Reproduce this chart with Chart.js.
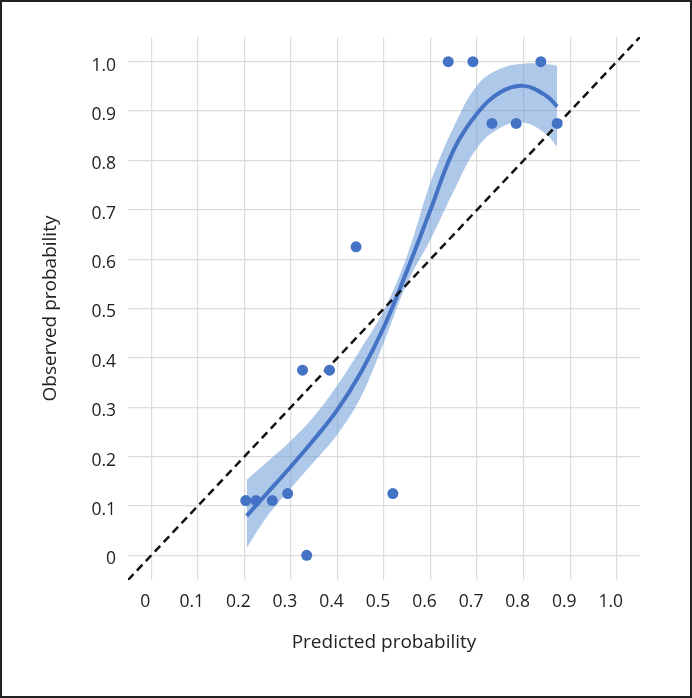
<!DOCTYPE html>
<html>
<head>
<meta charset="utf-8">
<script src="https://cdn.jsdelivr.net/npm/chart.js@4.4.1/dist/chart.umd.min.js"></script>
<style>
  html, body { margin: 0; padding: 0; background: #fff; }
  #frame { width: 692px; height: 698px; box-sizing: border-box; border: 2px solid #222; }
</style>
</head>
<body>
<div id="frame"><canvas id="c" width="688" height="694"></canvas></div>
<script>
// observed points (predicted vs observed)
const predX = [0.203, 0.225, 0.260, 0.293, 0.334, 0.519, 0.325, 0.383, 0.440, 0.638, 0.691, 0.837, 0.732, 0.784, 0.872];
const obsY  = [0.111, 0.111, 0.111, 0.125, 0, 0.125, 0.375, 0.375, 0.625, 1, 1, 1, 0.875, 0.875, 0.875];

// smoothed fit + confidence band
const fitX  = [0.205, 0.25, 0.30, 0.35, 0.40, 0.45, 0.50, 0.55, 0.60, 0.65, 0.70, 0.75, 0.80, 0.85, 0.872];
const fitY  = [0.080, 0.127, 0.180, 0.235, 0.295, 0.370, 0.463, 0.578, 0.700, 0.822, 0.895, 0.938, 0.951, 0.930, 0.909];
const bandLo = [0.015, 0.080, 0.136, 0.190, 0.245, 0.320, 0.432, 0.552, 0.640, 0.738, 0.825, 0.866, 0.877, 0.852, 0.827];
const bandHi = [0.153, 0.190, 0.232, 0.282, 0.345, 0.418, 0.497, 0.608, 0.755, 0.868, 0.952, 0.986, 0.996, 0.995, 0.992];

// perfect calibration line
const refLine = [-0.05, 1.05];

const tickVals = [0, 0.1, 0.2, 0.3, 0.4, 0.5, 0.6, 0.7, 0.8, 0.9, 1.0];
const tickLabels = ['0', '0.1', '0.2', '0.3', '0.4', '0.5', '0.6', '0.7', '0.8', '0.9', '1.0'];

const blue = '#4472C4';
const fontFam = "'Open Sans', 'Noto Sans', sans-serif";

function pts(xs, ys) { return xs.map((x, i) => ({ x: x, y: ys[i] })); }

function axis(title, isY) {
  return {
    type: 'linear',
    min: -0.05,
    max: 1.05,
    afterBuildTicks: s => { s.ticks = tickVals.map(v => ({ value: v })); },
    afterFit: s => { if (isY) s.width = 126; else s.height = 116; },
    grid: { color: '#dcdcdc', lineWidth: 1.2, drawTicks: false },
    border: { display: false },
    ticks: {
      color: '#222',
      font: { family: fontFam, size: 17.5 },
      padding: 12,
      labelOffset: isY ? 4 : -6,
      callback: v => tickLabels[tickVals.findIndex(t => Math.abs(t - v) < 1e-9)]
    },
    title: {
      display: true,
      text: title,
      color: '#222',
      font: { family: fontFam, size: 19 },
      padding: isY ? { top: 37, bottom: 0 } : { top: 0, bottom: 42 }
    }
  };
}

new Chart(document.getElementById('c'), {
  type: 'scatter',
  data: {
    datasets: [
      { data: pts(predX, obsY), pointRadius: 5.5, pointBackgroundColor: blue, pointBorderWidth: 0, showLine: false },
      { data: pts(refLine, refLine), showLine: true, borderColor: '#111', borderWidth: 2.5, borderDash: [8, 5], pointRadius: 0 },
      { data: pts(fitX, fitY), showLine: true, borderColor: blue, borderWidth: 4, pointRadius: 0, tension: 0.4 },
      { data: pts(fitX, bandLo), showLine: true, borderWidth: 0, pointRadius: 0, tension: 0.4 },
      { data: pts(fitX, bandHi), showLine: true, borderWidth: 0, pointRadius: 0, tension: 0.4,
        fill: '-1', backgroundColor: 'rgba(100,150,215,0.52)' }
    ]
  },
  options: {
    responsive: false,
    animation: false,
    layout: { padding: { top: 35, right: 50, left: 0, bottom: 0 } },
    plugins: { legend: { display: false }, tooltip: { enabled: false } },
    scales: {
      x: axis('Predicted probability', false),
      y: axis('Observed probability', true)
    }
  }
});
</script>
</body>
</html>
